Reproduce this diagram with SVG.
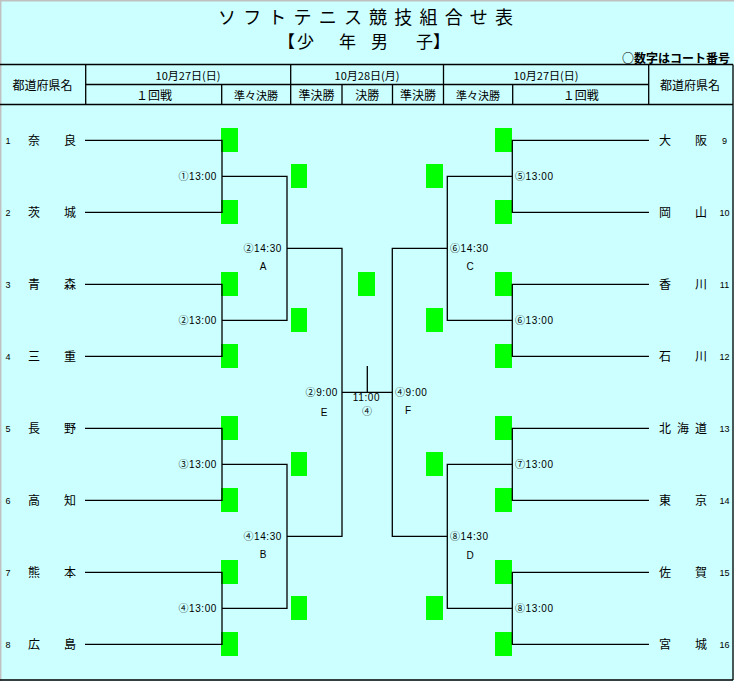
<svg xmlns="http://www.w3.org/2000/svg" width="734" height="681" viewBox="0 0 734 681">
<style>
.bg{fill:#CCFFFF}
.ln{stroke:#000;stroke-width:1.3;fill:none}
.gb{fill:#00FF00}
text{font-family:"Liberation Sans","Noto Sans CJK JP",sans-serif;fill:#000}
.ttl{font-family:"Noto Sans CJK JP",sans-serif;font-size:18px}
.sub{font-family:"Noto Sans CJK JP",sans-serif;font-size:17px}
.note{font-family:"Noto Sans CJK JP",sans-serif;font-size:12px;font-weight:bold}
.hd{font-family:"Noto Sans CJK JP",sans-serif;font-size:12px}
.hs{font-family:"Noto Sans CJK JP",sans-serif;font-size:11px}
.nm{font-family:"Noto Sans CJK JP",sans-serif;font-size:12px}
.no{font-size:9px;text-anchor:middle}
.lb{font-size:10px;letter-spacing:0.6px}
.ce{font-size:10px;text-anchor:middle}
.e{text-anchor:end}
.m{text-anchor:middle}
</style>
<rect class="bg" x="0" y="0" width="734" height="681"/>
<path d="M0.7 0V681M0 0.7H734" stroke="#C0C0C0" stroke-width="1.5"/>

<g id="title">
<text class="ttl" x="218" y="24" textLength="295" lengthAdjust="spacing">ソフトテニス競技組合せ表</text>
<text class="sub" x="278" y="47.5">【</text>
<text class="sub" x="297" y="47.5">少</text>
<text class="sub" x="339" y="47.5">年</text>
<text class="sub" x="371" y="47.5">男</text>
<text class="sub" x="416" y="47.5">子</text>
<text class="sub" x="433" y="47.5">】</text>
<text class="note e" x="730" y="62.5">○数字はコート番号</text>
</g>

<g id="header">
<path class="ln" d="M0 64.5H733M85.7 84.5H648.7M0 104.5H733M85.7 64.5V104.5M290.7 64.5V104.5M443.5 64.5V104.5M648.7 64.5V104.5M221.7 84.5V104.5M342 84.5V104.5M392.5 84.5V104.5M512.7 84.5V104.5M733 64.5V680M0 680H733"/>
<text class="hd m" x="42.5" y="90">都道府県名</text>
<text class="hd m" x="690" y="90">都道府県名</text>
<text class="hs m" x="188" y="80">10月27日(日)</text>
<text class="hs m" x="367" y="80">10月28日(月)</text>
<text class="hs m" x="546" y="80">10月27日(日)</text>
<text class="hd m" x="154" y="100">１回戦</text>
<text class="hs m" x="256" y="99.5">準々決勝</text>
<text class="hd m" x="316.5" y="100">準決勝</text>
<text class="hd m" x="367.3" y="100">決勝</text>
<text class="hd m" x="418" y="100">準決勝</text>
<text class="hs m" x="478" y="99.5">準々決勝</text>
<text class="hd m" x="580.7" y="100">１回戦</text>
</g>

<g id="boxes">
<rect class="gb" x="221" y="128" width="17" height="24"/>
<rect class="gb" x="221" y="200" width="17" height="24"/>
<rect class="gb" x="221" y="272" width="17" height="24"/>
<rect class="gb" x="221" y="344" width="17" height="24"/>
<rect class="gb" x="221" y="416" width="17" height="24"/>
<rect class="gb" x="221" y="488" width="17" height="24"/>
<rect class="gb" x="221" y="560" width="17" height="24"/>
<rect class="gb" x="221" y="632" width="17" height="24"/>
<rect class="gb" x="291" y="164" width="16" height="24"/>
<rect class="gb" x="291" y="308" width="16" height="24"/>
<rect class="gb" x="291" y="452" width="16" height="24"/>
<rect class="gb" x="291" y="596" width="16" height="24"/>
<rect class="gb" x="358" y="272" width="17" height="24"/>
<rect class="gb" x="426" y="164" width="17" height="24"/>
<rect class="gb" x="426" y="308" width="17" height="24"/>
<rect class="gb" x="426" y="452" width="17" height="24"/>
<rect class="gb" x="426" y="596" width="17" height="24"/>
<rect class="gb" x="495" y="128" width="17" height="24"/>
<rect class="gb" x="495" y="200" width="17" height="24"/>
<rect class="gb" x="495" y="272" width="17" height="24"/>
<rect class="gb" x="495" y="344" width="17" height="24"/>
<rect class="gb" x="495" y="416" width="17" height="24"/>
<rect class="gb" x="495" y="488" width="17" height="24"/>
<rect class="gb" x="495" y="560" width="17" height="24"/>
<rect class="gb" x="495" y="632" width="17" height="24"/>
</g>

<g id="connectors" class="ln">
<path d="M85 140.3H222V212.3H85M85 284.3H222V356.3H85M85 428.3H222V500.3H85M85 572.3H222V644.3H85"/>
<path d="M222 176.3H287V320.3H222M222 464.3H287V608.3H222"/>
<path d="M287 248.3H342V536.3H287"/>
<path d="M342 392.3H392.3M367.3 366V392.3"/>
<path d="M447.3 248.3H392.3V536.3H447.3"/>
<path d="M512.3 176.3H447.3V320.3H512.3M512.3 464.3H447.3V608.3H512.3"/>
<path d="M649 140.3H512.3V212.3H649M649 284.3H512.3V356.3H649M649 428.3H512.3V500.3H649M649 572.3H512.3V644.3H649"/>
</g>

<g id="match-labels">
<text class="lb e" x="217" y="179.8">①13:00</text>
<text class="lb e" x="217" y="323.8">②13:00</text>
<text class="lb e" x="217" y="467.8">③13:00</text>
<text class="lb e" x="217" y="611.8">④13:00</text>
<text class="lb e" x="282" y="251.8">②14:30</text>
<text class="lb e" x="282" y="539.8">④14:30</text>
<text class="ce" x="263" y="270">A</text>
<text class="ce" x="263" y="558">B</text>
<text class="lb e" x="338" y="395.8">②9:00</text>
<text class="ce" x="324" y="415.5">E</text>
<text class="lb m" x="366.5" y="401">11:00</text>
<text class="ce" x="367" y="415">④</text>
<text class="lb" x="395" y="395.8">④9:00</text>
<text class="ce" x="408" y="413.5">F</text>
<text class="lb" x="450" y="251.8">⑥14:30</text>
<text class="lb" x="450" y="539.8">⑧14:30</text>
<text class="ce" x="470" y="270">C</text>
<text class="ce" x="470" y="558.5">D</text>
<text class="lb" x="515" y="179.8">⑤13:00</text>
<text class="lb" x="515" y="323.8">⑥13:00</text>
<text class="lb" x="515" y="467.8">⑦13:00</text>
<text class="lb" x="515" y="611.8">⑧13:00</text>
</g>

<g id="team-1"><text class="no" x="8" y="143.5">1</text><text class="nm" x="28" y="145">奈</text><text class="nm" x="64" y="145">良</text></g>
<g id="team-2"><text class="no" x="8" y="215.5">2</text><text class="nm" x="28" y="217">茨</text><text class="nm" x="64" y="217">城</text></g>
<g id="team-3"><text class="no" x="8" y="287.5">3</text><text class="nm" x="28" y="289">青</text><text class="nm" x="64" y="289">森</text></g>
<g id="team-4"><text class="no" x="8" y="359.5">4</text><text class="nm" x="28" y="361">三</text><text class="nm" x="64" y="361">重</text></g>
<g id="team-5"><text class="no" x="8" y="431.5">5</text><text class="nm" x="28" y="433">長</text><text class="nm" x="64" y="433">野</text></g>
<g id="team-6"><text class="no" x="8" y="503.5">6</text><text class="nm" x="28" y="505">高</text><text class="nm" x="64" y="505">知</text></g>
<g id="team-7"><text class="no" x="8" y="575.5">7</text><text class="nm" x="28" y="577">熊</text><text class="nm" x="64" y="577">本</text></g>
<g id="team-8"><text class="no" x="8" y="647.5">8</text><text class="nm" x="28" y="649">広</text><text class="nm" x="64" y="649">島</text></g>
<g id="team-9"><text class="nm" x="659" y="145">大</text><text class="nm" x="695" y="145">阪</text><text class="no" x="724.5" y="143.5">9</text></g>
<g id="team-10"><text class="nm" x="659" y="217">岡</text><text class="nm" x="695" y="217">山</text><text class="no" x="724.5" y="215.5">10</text></g>
<g id="team-11"><text class="nm" x="659" y="289">香</text><text class="nm" x="695" y="289">川</text><text class="no" x="724.5" y="287.5">11</text></g>
<g id="team-12"><text class="nm" x="659" y="361">石</text><text class="nm" x="695" y="361">川</text><text class="no" x="724.5" y="359.5">12</text></g>
<g id="team-13"><text class="nm" x="659" y="433">北</text><text class="nm" x="677" y="433">海</text><text class="nm" x="695" y="433">道</text><text class="no" x="724.5" y="431.5">13</text></g>
<g id="team-14"><text class="nm" x="659" y="505">東</text><text class="nm" x="695" y="505">京</text><text class="no" x="724.5" y="503.5">14</text></g>
<g id="team-15"><text class="nm" x="659" y="577">佐</text><text class="nm" x="695" y="577">賀</text><text class="no" x="724.5" y="575.5">15</text></g>
<g id="team-16"><text class="nm" x="659" y="649">宮</text><text class="nm" x="695" y="649">城</text><text class="no" x="724.5" y="647.5">16</text></g>
</svg>
